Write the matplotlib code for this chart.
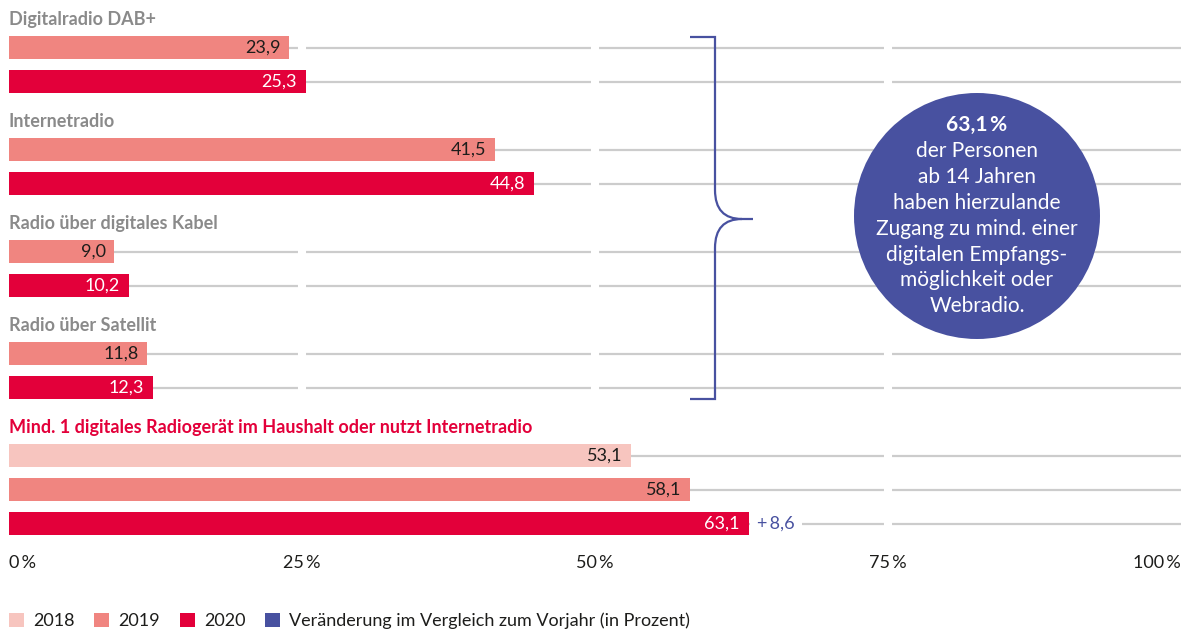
import matplotlib
matplotlib.use("Agg")
import matplotlib.pyplot as plt
from matplotlib.patches import Circle, Patch, PathPatch
from matplotlib.path import Path

plt.rcParams['font.family'] = ['Lato', 'DejaVu Sans']

# ---- data ----
categories = ["Digitalradio DAB+", "Internetradio", "Radio über digitales Kabel",
              "Radio über Satellit",
              "Mind. 1 digitales Radiogerät im Haushalt oder nutzt Internetradio"]
years = ["2018", "2019", "2020"]
v2018 = [None, None, None, None, 53.1]
v2019 = [23.9, 41.5, 9.0, 11.8, 58.1]
v2020 = [25.3, 44.8, 10.2, 12.3, 63.1]
change_last = 8.6
xticks = [0, 25, 50, 75, 100]
xticklabels = ["0\u2009%", "25\u2009%", "50\u2009%", "75\u2009%", "100\u2009%"]
legend_extra = "Veränderung im Vergleich zum Vorjahr (in Prozent)"
circle_bold = "63,1\u2009%"
circle_text = ["der Personen", "ab 14 Jahren", "haben hierzulande",
               "Zugang zu mind. einer", "digitalen Empfangs-",
               "möglichkeit oder", "Webradio."]

# ---- style ----
C2018 = "#f7c5bf"
C2019 = "#f08580"
C2020 = "#e3003a"
CBLUE = "#4851a0"
CGRID = "#cccccc"
CTITLE = "#8a8a8a"
CTEXT = "#1d1d1b"
FS = 13

W, H = 1189, 634
fig = plt.figure(figsize=(W / 100, H / 100), dpi=100)
fig.patch.set_facecolor("white")

AX_BOTTOM = 545
ax = fig.add_axes([9 / W, 1 - AX_BOTTOM / H, 1172 / W, AX_BOTTOM / H])
ax.set_xlim(0, 100)
ax.set_ylim(AX_BOTTOM, 0)
for s in ax.spines.values():
    s.set_visible(False)
ax.set_yticks([])
ax.set_xticks(xticks)
ax.set_xticklabels(xticklabels, fontsize=FS, color=CTEXT)
ax.tick_params(axis="x", length=0, pad=7)
for i, lab in enumerate(ax.get_xticklabels()):
    if i == 0:
        lab.set_ha("left")
    elif i == len(xticks) - 1:
        lab.set_ha("right")

def fmt(v):
    return f"{v:.1f}".replace(".", ",")

BAR_H = 23
PITCH = 34
GROUP = 102
first_bar = 47.5
bar_rows = []
for gi, cat in enumerate(categories):
    series = []
    if v2018[gi] is not None:
        series.append((v2018[gi], C2018, CTEXT))
    series.append((v2019[gi], C2019, CTEXT))
    series.append((v2020[gi], C2020, "white"))
    y0 = first_bar + GROUP * gi
    title_color = C2020 if gi == len(categories) - 1 else CTITLE
    ax.text(0, y0 - 28, cat, fontsize=FS, fontweight="bold",
            color=title_color, ha="left", va="center", zorder=5)
    for si, (val, col, tcol) in enumerate(series):
        y = y0 + PITCH * si
        bar_rows.append(y)
        ax.barh(y, val, height=BAR_H, color=col, zorder=3, linewidth=0)
        ax.text(val - 0.75, y, fmt(val), ha="right", va="center",
                fontsize=FS, color=tcol, zorder=4)
        if gi == len(categories) - 1 and si == len(series) - 1:
            ax.text(val + 0.75, y, "+\u2009" + fmt(change_last), ha="left",
                    va="center", fontsize=FS, color=CBLUE, zorder=4,
                    bbox=dict(boxstyle="square,pad=0.4", fc="white", ec="none"))

ax.hlines(bar_rows, 0, 100, color=CGRID, linewidth=1.6, zorder=1)
ax.vlines([25, 50, 75], 0, AX_BOTTOM, color="white", linewidth=5.8, zorder=2)

# ---- overlay in pixel coords ----
ov = fig.add_axes([0, 0, 1, 1])
ov.set_xlim(0, W)
ov.set_ylim(H, 0)
ov.axis("off")
ov.patch.set_alpha(0)

# brace
verts = [(690, 37), (715, 37), (715, 190), (715, 219), (742, 219), (753, 219),
         (742, 219), (715, 219), (715, 248), (715, 399), (690, 399)]
codes = [Path.MOVETO, Path.LINETO, Path.LINETO, Path.CURVE3, Path.CURVE3, Path.LINETO,
         Path.MOVETO, Path.CURVE3, Path.CURVE3, Path.LINETO, Path.LINETO]
ov.add_patch(PathPatch(Path(verts, codes), fill=False, edgecolor=CBLUE,
                       linewidth=1.6, capstyle="butt", joinstyle="miter"))

# circle
cx, cy, r = 977, 216, 123
ov.add_patch(Circle((cx, cy), r, facecolor=CBLUE, edgecolor="none"))
ov.text(cx, 125, circle_bold, ha="center", va="center", fontsize=15,
        fontweight="bold", color="white")
for i, line in enumerate(circle_text):
    ov.text(cx, 151 + 25.9 * i, line, ha="center", va="center",
            fontsize=15, color="white")

# legend
handles = [Patch(facecolor=C2018), Patch(facecolor=C2019),
           Patch(facecolor=C2020), Patch(facecolor=CBLUE)]
fig.legend(handles, years + [legend_extra], loc="center left",
           bbox_to_anchor=(9 / W, 1 - 621 / H), ncol=4, frameon=False,
           fontsize=FS, handlelength=0.83, handleheight=0.83,
           handletextpad=0.5, columnspacing=1.1, borderaxespad=0,
           borderpad=0, labelcolor=CTEXT)

fig.savefig("out.png", dpi=100, facecolor="white")
